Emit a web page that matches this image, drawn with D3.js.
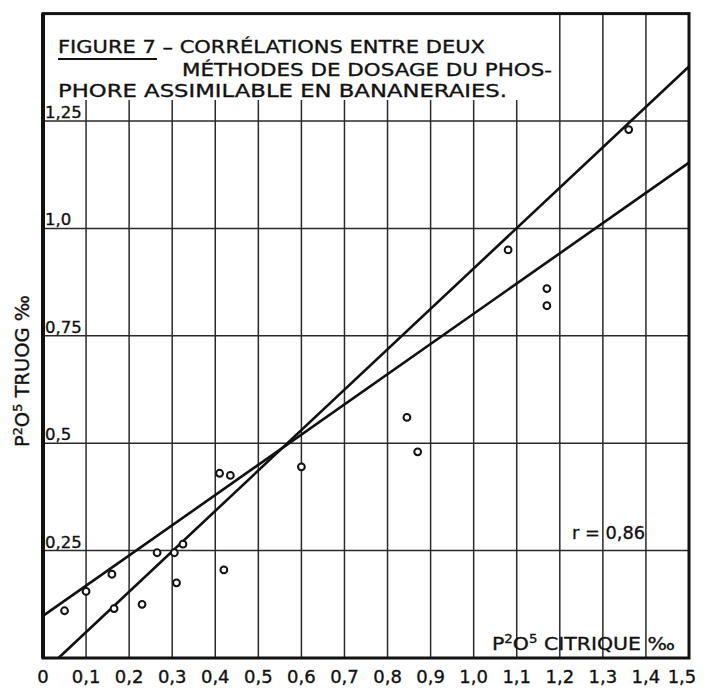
<!DOCTYPE html>
<html>
<head>
<meta charset="utf-8">
<script src="https://cdn.jsdelivr.net/npm/d3@7"></script>
<style>
  html, body { margin: 0; padding: 0; background: #fff; }
  svg { display: block; }
  text { font-family: "DejaVu Sans", "Liberation Sans", sans-serif; fill: #111; stroke: #111; stroke-width: 0.35px; }
</style>
</head>
<body>
<div id="chart"></div>
<script>
// ---- data ----
const xTicks = [0, 0.1, 0.2, 0.3, 0.4, 0.5, 0.6, 0.7, 0.8, 0.9, 1.0, 1.1, 1.2, 1.3, 1.4, 1.5];
const xTickLabels = ["0", "0,1", "0,2", "0,3", "0,4", "0,5", "0,6", "0,7", "0,8", "0,9", "1,0", "1,1", "1,2", "1,3", "1,4", "1,5"];
const yTicks = [0.25, 0.5, 0.75, 1.0, 1.25];
const yTickLabels = ["0,25", "0,5", "0,75", "1,0", "1,25"];

// P2O5 citrique (x) and P2O5 Truog (y), ‰
const citrique = [0.05, 0.10, 0.16, 0.165, 0.23, 0.265, 0.305, 0.325, 0.31, 0.42, 0.41, 0.435, 0.60, 0.845, 0.87, 1.08, 1.17, 1.17, 1.36];
const truog    = [0.11, 0.155, 0.195, 0.115, 0.125, 0.245, 0.245, 0.265, 0.175, 0.205, 0.43, 0.425, 0.445, 0.56, 0.48, 0.95, 0.86, 0.82, 1.23];

// two regression lines (end points, in data units)
const lineAx = [0, 1.5];
const lineAy = [0.098, 1.153];
const lineBx = [0.036, 1.5];
const lineBy = [0, 1.377];

const titleLines = [
  "FIGURE 7 – CORRÉLATIONS ENTRE DEUX",
  "MÉTHODES DE DOSAGE DU PHOS-",
  "PHORE ASSIMILABLE EN BANANERAIES."
];
// axis titles as [text, isSuperscript] pieces
const yTitleParts = [["P", false], ["2", true], ["O", false], ["5", true], [" TRUOG ‰", false]];
const xTitleParts = [["P", false], ["2", true], ["O", false], ["5", true], [" CITRIQUE ‰", false]];
const rText = "r = 0,86";

// ---- drawing ----
const W = 709, H = 689;
const svg = d3.select("#chart").append("svg").attr("width", W).attr("height", H);
svg.append("rect").attr("width", W).attr("height", H).attr("fill", "#fff");

const x = d3.scaleLinear().domain([0, 1.5]).range([43, 689]);
const y = d3.scaleLinear().domain([0, 1.25]).range([658, 121]);
const yTop = y(1.5);
const titleBottom = 100;

// vertical grid
const vg = svg.append("g").attr("stroke", "#2a2a2a").attr("stroke-width", 1.5);
xTicks.filter(d => d > 0 && d < 1.5).forEach(d => {
  vg.append("line")
    .attr("x1", x(d)).attr("x2", x(d))
    .attr("y1", y(0)).attr("y2", d < 1.15 ? titleBottom : yTop);
});
// horizontal grid
yTicks.forEach(d => {
  vg.append("line")
    .attr("x1", x(0)).attr("x2", x(1.5))
    .attr("y1", y(d)).attr("y2", y(d));
});

// frame
svg.append("rect")
  .attr("x", x(0)).attr("y", yTop)
  .attr("width", x(1.5) - x(0)).attr("height", y(0) - yTop)
  .attr("fill", "none").attr("stroke", "#111").attr("stroke-width", 3);
svg.append("line").attr("x1", x(0)).attr("x2", x(0)).attr("y1", yTop).attr("y2", y(0))
  .attr("stroke", "#111").attr("stroke-width", 4);

// regression lines
const lg = svg.append("g").attr("stroke", "#111").attr("stroke-width", 2.6).attr("fill", "none");
[[lineAx, lineAy], [lineBx, lineBy]].forEach(([lx, ly]) => {
  lg.append("line")
    .attr("x1", x(lx[0])).attr("y1", y(ly[0]))
    .attr("x2", x(lx[1])).attr("y2", y(ly[1]));
});

// points
svg.append("g").selectAll("circle").data(citrique).join("circle")
  .attr("cx", d => x(d))
  .attr("cy", (d, i) => y(truog[i]))
  .attr("r", 3.4)
  .attr("fill", "#fff")
  .attr("stroke", "#111")
  .attr("stroke-width", 2);

// x tick labels
svg.append("g").selectAll("text").data(xTicks).join("text")
  .attr("x", d => x(d) - (d === 1.5 ? 7 : 0))
  .attr("y", 683)
  .attr("text-anchor", "middle")
  .attr("font-size", 18)
  .text((d, i) => xTickLabels[i]);

// y tick labels
svg.append("g").selectAll("text").data(yTicks).join("text")
  .attr("x", x(0) + 2)
  .attr("y", d => y(d) - 3)
  .attr("font-size", 16.5)
  .text((d, i) => yTickLabels[i]);

// title
const tl = svg.append("g").attr("font-size", 18.5);
tl.append("text").attr("x", 58).attr("y", 53).attr("textLength", 427).attr("lengthAdjust", "spacingAndGlyphs").text(titleLines[0]);
tl.append("text").attr("x", 182).attr("y", 76).attr("textLength", 370).attr("lengthAdjust", "spacingAndGlyphs").text(titleLines[1]);
tl.append("text").attr("x", 58).attr("y", 97).attr("textLength", 449).attr("lengthAdjust", "spacingAndGlyphs").text(titleLines[2]);
svg.append("line").attr("x1", 58).attr("x2", 157).attr("y1", 59).attr("y2", 59)
  .attr("stroke", "#111").attr("stroke-width", 1.8);

function addParts(sel, parts) {
  parts.forEach(([t, sup]) => {
    const ts = sel.append("tspan").text(t);
    if (sup) ts.attr("font-size", "0.65em").attr("dy", "-0.55em");
    else ts.attr("dy", null);
  });
  // reset baseline after superscripts
  sel.selectAll("tspan").each(function (d, i) {
    const p = parts[i];
    if (!p[1] && i > 0 && parts[i - 1][1]) d3.select(this).attr("dy", "0.36em");
  });
}

// axis titles
const yt = svg.append("text")
  .attr("transform", "translate(29,371) rotate(-90)")
  .attr("text-anchor", "middle")
  .attr("font-size", 19)
  .attr("textLength", 152).attr("lengthAdjust", "spacingAndGlyphs");
addParts(yt, yTitleParts);

const xt = svg.append("text")
  .attr("x", 492).attr("y", 650)
  .attr("font-size", 18.5)
  .attr("textLength", 183).attr("lengthAdjust", "spacingAndGlyphs");
addParts(xt, xTitleParts);

svg.append("text")
  .attr("x", 572).attr("y", 539)
  .attr("font-size", 18)
  .attr("textLength", 73).attr("lengthAdjust", "spacingAndGlyphs")
  .text(rText);
</script>
</body>
</html>
